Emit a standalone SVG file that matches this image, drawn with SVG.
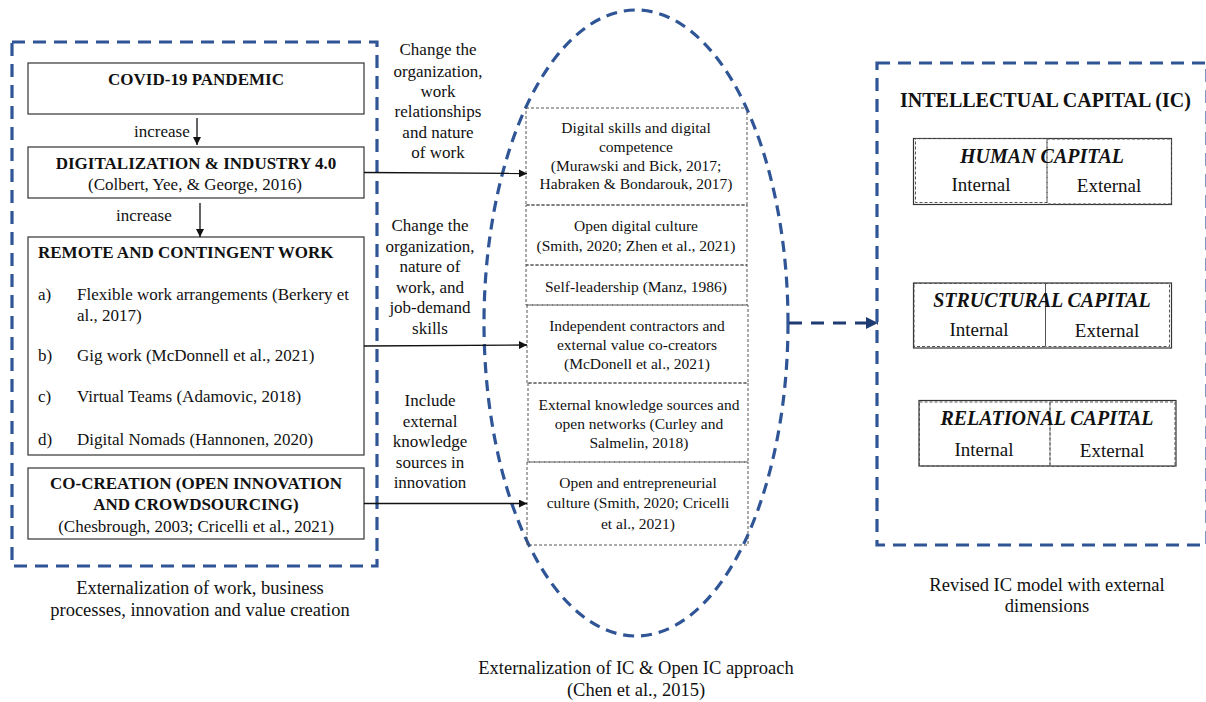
<svg xmlns="http://www.w3.org/2000/svg" width="1206" height="702" viewBox="0 0 1206 702">
<defs>
<style>
text{font-family:"Liberation Serif","Times New Roman",serif;fill:#111;}
.t17{font-size:17px;}
.b17{font-size:17px;font-weight:bold;}
.t15{font-size:15.5px;}
.t18{font-size:18.5px;}
.bi{font-size:20px;font-weight:bold;font-style:italic;}
.t19{font-size:19px;}
.mid{text-anchor:middle;}
.box{fill:#fff;stroke:#333;stroke-width:1.2;}
.dbox{fill:none;stroke:#555;stroke-width:1;stroke-dasharray:3 2;}
.blue{fill:none;stroke:#2f5597;stroke-width:3.2;stroke-dasharray:13 8;}
.conn{fill:none;stroke:#111;stroke-width:1.3;}
</style>
<marker id="ah" viewBox="0 0 10 10" refX="10" refY="5" markerWidth="8" markerHeight="8" markerUnits="userSpaceOnUse" orient="auto"><path d="M0,0 L10,5 L0,10 z" fill="#111"/></marker>
<marker id="ahb" viewBox="0 0 10 10" refX="10" refY="5" markerWidth="4" markerHeight="4" orient="auto"><path d="M0,0 L10,5 L0,10 z" fill="#1f3b73"/></marker>
</defs>
<rect width="1206" height="702" fill="#fff"/>

<g id="left-group">
<rect class="blue" x="12" y="42" width="365" height="524"/>
<text class="t18 mid" x="200" y="594">Externalization of work, business</text>
<text class="t18 mid" x="200" y="616">processes, innovation and value creation</text>
</g>

<g id="covid">
<rect class="box" x="28" y="63" width="336" height="51"/>
<text class="b17 mid" x="196" y="85">COVID-19 PANDEMIC</text>
</g>

<g id="digitalization">
<rect class="box" x="28" y="147" width="336" height="51"/>
<text class="b17 mid" x="196" y="169">DIGITALIZATION &amp; INDUSTRY 4.0</text>
<text class="t17 mid" x="195" y="190">(Colbert, Yee, &amp; George, 2016)</text>
</g>

<g id="remote">
<rect class="box" x="28" y="237" width="336" height="218"/>
<text class="b17" x="38" y="258">REMOTE AND CONTINGENT WORK</text>
<text class="t17" x="38" y="300">a)</text>
<text class="t17" x="77" y="300">Flexible work arrangements (Berkery et</text>
<text class="t17" x="77" y="321">al., 2017)</text>
<text class="t17" x="38" y="361">b)</text>
<text class="t17" x="77" y="361">Gig work (McDonnell et al., 2021)</text>
<text class="t17" x="38" y="402">c)</text>
<text class="t17" x="77" y="402">Virtual Teams (Adamovic, 2018)</text>
<text class="t17" x="38" y="445">d)</text>
<text class="t17" x="77" y="445">Digital Nomads (Hannonen, 2020)</text>
</g>

<g id="cocreation">
<rect class="box" x="28" y="468" width="336" height="71"/>
<text class="b17 mid" x="196" y="489">CO-CREATION (OPEN INNOVATION</text>
<text class="b17 mid" x="196" y="510">AND CROWDSOURCING)</text>
<text class="t17 mid" x="196" y="532">(Chesbrough, 2003; Cricelli et al., 2021)</text>
</g>

<g id="open-ic">
<ellipse class="blue" cx="636" cy="323" rx="152" ry="313" style="stroke-dasharray:11 7"/>
<text class="t18 mid" x="636" y="674">Externalization of IC &amp; Open IC approach</text>
<text class="t18 mid" x="636" y="696">(Chen et al., 2015)</text>
</g>

<g id="ic-digital-skills">
<rect class="dbox" x="526" y="108" width="221" height="97"/>
<text class="t15 mid" x="636" y="133">Digital skills and digital</text>
<text class="t15 mid" x="636" y="152">competence</text>
<text class="t15 mid" x="636" y="170.5">(Murawski and Bick, 2017;</text>
<text class="t15 mid" x="636" y="189">Habraken &amp; Bondarouk, 2017)</text>
</g>
<g id="ic-open-digital-culture">
<rect class="dbox" x="526" y="205" width="221" height="60"/>
<text class="t15 mid" x="636" y="231">Open digital culture</text>
<text class="t15 mid" x="636" y="250.5">(Smith, 2020; Zhen et al., 2021)</text>
</g>
<g id="ic-self-leadership">
<rect class="dbox" x="526" y="265" width="221" height="40"/>
<text class="t15 mid" x="636" y="292">Self-leadership (Manz, 1986)</text>
</g>
<g id="ic-independent">
<rect class="dbox" x="527" y="305" width="221" height="78"/>
<text class="t15 mid" x="637" y="331">Independent contractors and</text>
<text class="t15 mid" x="637" y="350">external value co-creators</text>
<text class="t15 mid" x="637" y="369">(McDonell et al., 2021)</text>
</g>
<g id="ic-external-knowledge">
<rect class="dbox" x="528" y="383" width="220" height="79"/>
<text class="t15 mid" x="639" y="409.5">External knowledge sources and</text>
<text class="t15 mid" x="639" y="428.5">open networks (Curley and</text>
<text class="t15 mid" x="639" y="447.5">Salmelin, 2018)</text>
</g>
<g id="ic-entrepreneurial">
<rect class="dbox" x="527" y="462" width="221" height="83"/>
<text class="t15 mid" x="638" y="487.5">Open and entrepreneurial</text>
<text class="t15 mid" x="638" y="508">culture (Smith, 2020; Cricelli</text>
<text class="t15 mid" x="638" y="529">et al., 2021)</text>
</g>

<g id="ic-model">
<rect class="blue" x="877" y="63" width="330" height="482"/>
<text style="font-size:20px;font-weight:bold" x="900" y="107">INTELLECTUAL CAPITAL (IC)</text>
<text class="t18 mid" x="1047" y="591">Revised IC model with external</text>
<text class="t18 mid" x="1047" y="612">dimensions</text>
</g>

<g id="human-capital">
<rect class="box" x="913.5" y="138.5" width="258" height="66"/>
<rect class="dbox" x="915.5" y="138.5" width="131.5" height="64"/>
<rect class="dbox" x="1047" y="139" width="124.5" height="65"/>
<text class="bi mid" x="1042" y="163">HUMAN CAPITAL</text>
<text class="t19 mid" x="981" y="191">Internal</text>
<text class="t19 mid" x="1109" y="192">External</text>
</g>

<g id="structural-capital">
<rect class="box" x="913.5" y="283" width="258" height="65"/>
<rect class="dbox" x="914" y="283.5" width="131.5" height="63"/>
<rect class="dbox" x="1045.5" y="283.5" width="124" height="63"/>
<text class="bi mid" x="1042" y="307">STRUCTURAL CAPITAL</text>
<text class="t19 mid" x="979" y="336">Internal</text>
<text class="t19 mid" x="1107" y="337">External</text>
</g>

<g id="relational-capital">
<rect class="box" x="919" y="400.5" width="257" height="65.5"/>
<rect class="dbox" x="919.5" y="402" width="130.5" height="64"/>
<rect class="dbox" x="1050" y="402" width="125" height="64.5"/>
<text class="bi mid" x="1047" y="425">RELATIONAL CAPITAL</text>
<text class="t19 mid" x="984" y="455.5">Internal</text>
<text class="t19 mid" x="1112" y="457">External</text>
</g>

<g id="connectors">
<line class="conn" x1="197" y1="118" x2="197" y2="145" marker-end="url(#ah)"/>
<text class="t17" x="134" y="137">increase</text>
<line class="conn" x1="200" y1="203" x2="200" y2="237" marker-end="url(#ah)"/>
<text class="t17" x="116" y="221">increase</text>

<line class="conn" x1="364" y1="172.5" x2="527" y2="173.5" marker-end="url(#ah)"/>
<text class="t17 mid" x="438" y="55">Change the</text>
<text class="t17 mid" x="438" y="77">organization,</text>
<text class="t17 mid" x="438" y="97">work</text>
<text class="t17 mid" x="438" y="117">relationships</text>
<text class="t17 mid" x="438" y="138">and nature</text>
<text class="t17 mid" x="438" y="158">of work</text>

<line class="conn" x1="364" y1="346" x2="527" y2="345" marker-end="url(#ah)"/>
<text class="t17 mid" x="430" y="231">Change the</text>
<text class="t17 mid" x="430" y="251.5">organization,</text>
<text class="t17 mid" x="430" y="272">nature of</text>
<text class="t17 mid" x="430" y="292.5">work, and</text>
<text class="t17 mid" x="430" y="313">job-demand</text>
<text class="t17 mid" x="430" y="333.5">skills</text>

<line class="conn" x1="364" y1="503.5" x2="527" y2="503.5" marker-end="url(#ah)"/>
<text class="t17 mid" x="430" y="406">Include</text>
<text class="t17 mid" x="430" y="427">external</text>
<text class="t17 mid" x="430" y="447">knowledge</text>
<text class="t17 mid" x="430" y="468">sources in</text>
<text class="t17 mid" x="430" y="488">innovation</text>

<line x1="789" y1="323" x2="878" y2="323" stroke="#1f3b73" stroke-width="3" stroke-dasharray="13 9" marker-end="url(#ahb)"/>
</g>
</svg>
